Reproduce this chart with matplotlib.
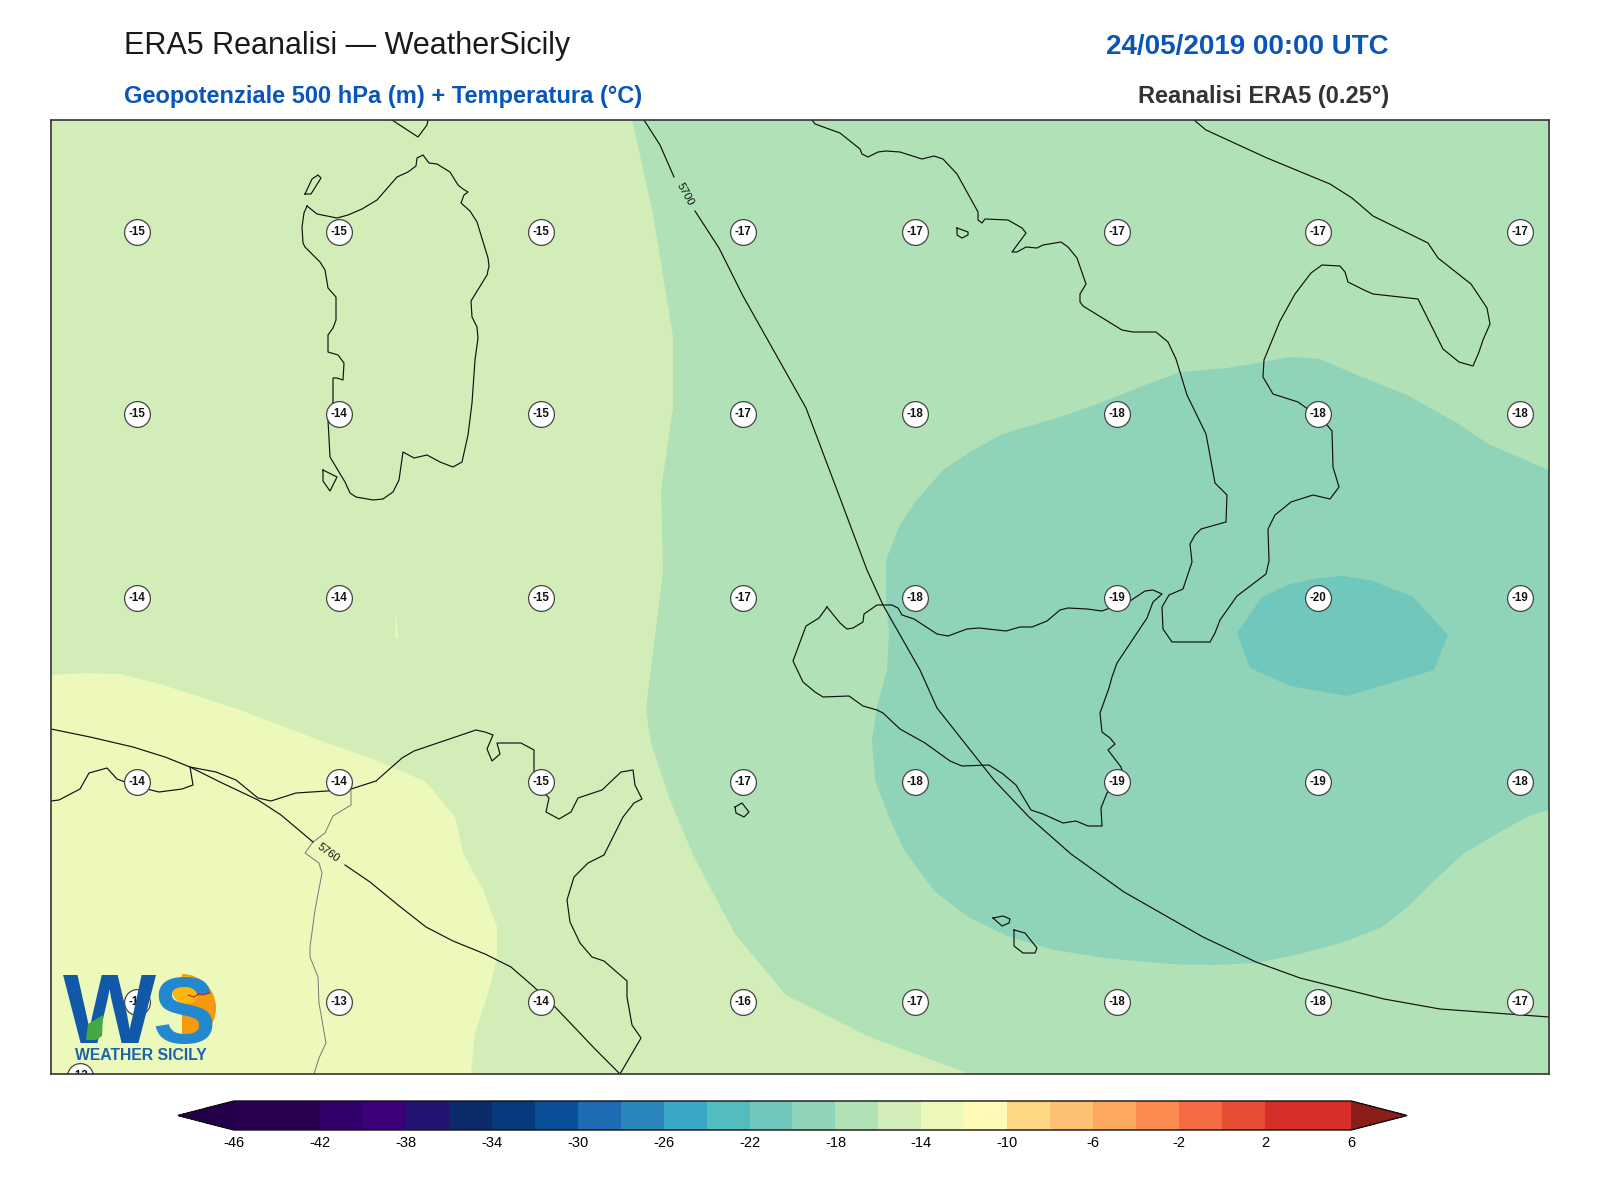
import matplotlib
matplotlib.use("Agg")
import matplotlib.pyplot as plt
from matplotlib.colors import ListedColormap, BoundaryNorm
from matplotlib.cm import ScalarMappable
from matplotlib.patches import Circle, Wedge, Polygon

plt.rcParams['font.family'] = ['Liberation Sans', 'DejaVu Sans']
plt.rcParams['axes.unicode_minus'] = False

# map units follow the reference raster, y grows southward
livelli = list(range(-46, 8, 2))
colori = ['#28004f', '#28004f', '#32006a', '#3e0078', '#231473', '#0c2b6b', '#073a7d',
          '#094f98', '#1d6cb3', '#2a86bb', '#38a7c4', '#52bcbf', '#70c7bc', '#8fd3b9',
          '#b1e1b6', '#d3edb8', '#edf8bb', '#fffab5', '#fed785', '#fdc174', '#fda75f',
          '#fb8b4e', '#f56c44', '#e64e33', '#d62f27', '#d62f27']
colore_sotto = '#25004a'
colore_sopra = '#8b1e18'

# temperature bands (boundary of each level region)
banda_14 = [(51, 120), (1549, 120), (1549, 1074), (51, 1074)]
banda_12 = [(51, 675), (85, 673), (120, 674), (160, 684), (200, 697), (240, 710), (327, 743),
            (376, 760), (426, 782), (455, 817), (463, 853), (483, 890), (497, 927), (497, 958),
            (487, 997), (475, 1033), (471, 1074), (51, 1074)]
banda_12_striscia = [(396, 612), (398, 637), (395, 637)]
banda_16 = [(632, 120), (653, 214), (673, 337), (673, 408), (661, 490), (663, 571), (653, 653),
            (646, 710), (651, 743), (670, 800), (694, 857), (735, 934), (786, 995), (867, 1036),
            (970, 1074), (1549, 1074), (1549, 120)]
banda_18 = [(1549, 470), (1490, 445), (1457, 423), (1407, 395), (1357, 375), (1320, 359),
            (1290, 357), (1257, 363), (1227, 368), (1180, 372), (1140, 387), (1103, 402),
            (1060, 417), (1003, 434), (973, 450), (943, 470), (915, 502), (900, 525), (886, 560),
            (886, 600), (889, 633), (887, 670), (877, 707), (872, 740), (875, 780), (889, 817),
            (904, 850), (935, 892), (970, 918), (1010, 937), (1054, 950), (1106, 958), (1168, 964),
            (1212, 965), (1256, 963), (1300, 954), (1344, 942), (1382, 927), (1410, 905),
            (1437, 878), (1463, 854), (1498, 833), (1529, 816), (1549, 810)]
banda_20 = [(1237, 633), (1262, 597), (1290, 584), (1320, 578), (1343, 576), (1373, 581),
            (1413, 597), (1448, 635), (1434, 670), (1347, 696), (1290, 686), (1250, 668)]

# coastlines
sardegna = [(307, 206), (317, 214), (337, 218), (348, 215), (362, 209), (377, 200), (397, 177),
            (408, 172), (416, 166), (417, 158), (423, 155), (429, 163), (437, 164), (450, 172),
            (458, 185), (463, 189), (468, 192), (464, 195), (461, 203), (470, 211), (477, 222),
            (488, 258), (489, 266), (487, 275), (471, 301), (472, 317), (477, 327), (478, 338),
            (475, 360), (472, 403), (468, 435), (462, 462), (453, 467), (440, 462), (427, 455),
            (414, 458), (403, 452), (399, 480), (393, 492), (383, 499), (373, 500), (356, 497),
            (350, 493), (345, 482), (330, 457), (328, 420), (333, 402), (333, 378), (337, 378),
            (343, 380), (344, 363), (338, 355), (328, 352), (328, 335), (333, 328), (336, 320),
            (336, 297), (328, 288), (325, 270), (320, 262), (305, 247), (303, 243), (302, 227),
            (304, 213), (307, 206)]
asinara = [(305, 194), (312, 179), (318, 175), (321, 178), (311, 194), (305, 194)]
antioco = [(323, 470), (337, 477), (330, 491), (323, 481), (323, 470)]
corsica = [(392, 120), (418, 137), (427, 125), (428, 120)]
sicilia = [(827, 607), (840, 623), (847, 629), (853, 628), (863, 622), (864, 614), (877, 605),
           (892, 605), (898, 608), (902, 615), (914, 619), (937, 634), (948, 636), (967, 629),
           (979, 628), (1006, 631), (1020, 627), (1032, 627), (1047, 621), (1060, 610),
           (1068, 608), (1087, 609), (1102, 611), (1110, 608), (1130, 601), (1145, 591),
           (1153, 590), (1162, 594), (1153, 602), (1147, 618), (1117, 663), (1112, 677),
           (1109, 688), (1100, 713), (1102, 732), (1110, 738), (1115, 744), (1108, 750),
           (1121, 767), (1122, 770), (1117, 783), (1107, 793), (1101, 808), (1102, 826),
           (1088, 826), (1076, 821), (1063, 823), (1043, 814), (1031, 810), (1016, 785),
           (1003, 774), (989, 765), (962, 766), (950, 761), (925, 743), (900, 729), (883, 713),
           (877, 710), (863, 706), (849, 696), (823, 697), (815, 692), (803, 682), (793, 661),
           (806, 626), (819, 618), (827, 607)]
penisola = [(812, 120), (815, 124), (840, 133), (860, 149), (862, 154), (868, 157), (878, 152),
            (886, 151), (900, 152), (922, 159), (934, 156), (943, 159), (957, 174), (978, 212),
            (978, 220), (982, 223), (985, 219), (1008, 220), (1022, 228), (1026, 233), (1012, 252),
            (1017, 252), (1026, 247), (1037, 248), (1043, 245), (1061, 242), (1068, 247),
            (1077, 258), (1086, 284), (1080, 294), (1080, 302), (1083, 306), (1122, 330),
            (1133, 332), (1156, 332), (1168, 342), (1176, 359), (1187, 395), (1206, 434),
            (1211, 461), (1215, 483), (1227, 495), (1226, 522), (1201, 529), (1195, 535),
            (1190, 544), (1192, 562), (1183, 589), (1169, 595), (1162, 607), (1163, 629),
            (1172, 642), (1210, 642), (1215, 633), (1220, 620), (1237, 596), (1266, 574),
            (1269, 561), (1268, 529), (1275, 515), (1291, 502), (1313, 495), (1330, 499),
            (1339, 487), (1333, 467), (1332, 431), (1323, 420), (1298, 402), (1273, 394),
            (1263, 377), (1264, 360), (1280, 321), (1295, 294), (1311, 273), (1322, 265),
            (1340, 266), (1345, 272), (1348, 282), (1364, 290), (1373, 294), (1418, 299),
            (1443, 349), (1459, 362), (1473, 366), (1479, 352), (1483, 340), (1490, 324),
            (1487, 308), (1471, 284), (1438, 258), (1428, 243), (1373, 216), (1352, 198),
            (1330, 184), (1267, 158), (1206, 130), (1194, 120)]
capri = [(957, 228), (968, 232), (968, 235), (962, 238), (957, 235), (957, 228)]
pantelleria = [(735, 807), (742, 803), (749, 812), (744, 817), (736, 813), (735, 807)]
malta = [(1014, 930), (1025, 933), (1037, 948), (1035, 953), (1023, 953), (1014, 946), (1014, 930)]
gozo = [(993, 918), (1003, 916), (1010, 919), (1009, 923), (1002, 926), (993, 918)]
tunisia = [(51, 801), (59, 800), (80, 789), (89, 773), (107, 768), (117, 779), (125, 782),
           (147, 789), (159, 792), (182, 789), (193, 785), (190, 767), (216, 772), (236, 780),
           (258, 798), (271, 801), (296, 793), (327, 791), (351, 789), (376, 781), (402, 758),
           (414, 751), (476, 730), (485, 732), (493, 735), (487, 749), (492, 761), (500, 754),
           (497, 743), (521, 743), (534, 750), (534, 782), (549, 798), (546, 812), (559, 819),
           (571, 812), (578, 798), (602, 790), (621, 772), (633, 770), (635, 785), (642, 799),
           (634, 803), (623, 817), (604, 855), (588, 863), (574, 877), (567, 900), (570, 922),
           (580, 943), (592, 957), (604, 961), (627, 981), (627, 997), (632, 1025), (641, 1038),
           (620, 1074)]
coste = [sardegna, asinara, antioco, corsica, sicilia, penisola, capri, pantelleria, malta, gozo, tunisia]
confine = [(351, 789), (351, 805), (333, 816), (325, 833), (313, 842), (305, 853), (319, 863),
           (322, 873), (315, 910), (310, 947), (310, 957), (318, 977), (319, 1003), (326, 1043),
           (319, 1058), (314, 1074)]

# 500 hPa geopotential, split at the labels
iso_5760 = [[(51, 729), (90, 737), (133, 747), (165, 757), (190, 767), (220, 782), (258, 800),
             (281, 815), (313, 842)],
            [(345, 865), (370, 882), (398, 905), (426, 927), (453, 941), (485, 954), (511, 967),
             (534, 987), (556, 1008), (596, 1050), (620, 1074)]]
iso_5700 = [[(644, 120), (660, 145), (674, 177)],
            [(695, 211), (719, 248), (743, 296), (806, 408), (837, 490), (867, 570), (883, 605),
             (920, 670), (937, 708), (994, 780), (1029, 817), (1071, 854), (1124, 892),
             (1203, 937), (1256, 962), (1300, 978), (1384, 999), (1440, 1009), (1549, 1017)]]
etichette_iso = [('5760', 328, 853, -36), ('5700', 685, 194, -61)]

# grid point temperatures
temp_x = [137, 339, 541, 743, 915, 1117, 1318, 1520]
temp_y = [232, 414, 598, 782, 1002]
temp_val = [[-15, -15, -15, -17, -17, -17, -17, -17],
            [-15, -14, -15, -17, -18, -18, -18, -18],
            [-14, -14, -15, -17, -18, -19, -20, -19],
            [-14, -14, -15, -17, -18, -19, -19, -18],
            [-13, -13, -14, -16, -17, -18, -18, -17]]
extra_x, extra_y, extra_val = 80, 1076, -12

fig = plt.figure(figsize=(16, 12), dpi=100)
ax = fig.add_axes([51 / 1600, 1 - 1074 / 1200, 1498 / 1600, 954 / 1200])
ax.set_xlim(51, 1549)
ax.set_ylim(1074, 120)
ax.set_xticks([])
ax.set_yticks([])
for s in ax.spines.values():
    s.set_linewidth(1.2)
    s.set_edgecolor('#333333')
    s.set_zorder(10)


def col(liv):
    return colori[livelli.index(liv)]


for poli, liv in [(banda_14, -16), (banda_12, -14), (banda_12_striscia, -14),
                  (banda_16, -18), (banda_18, -20), (banda_20, -22)]:
    ax.add_patch(Polygon(poli, closed=True, facecolor=col(liv), edgecolor='none', zorder=1))

for c in coste:
    ax.plot([p[0] for p in c], [p[1] for p in c], color='#111111', lw=0.85, zorder=2)
ax.plot([p[0] for p in confine], [p[1] for p in confine], color='#777777', lw=0.7, zorder=2)

for iso in iso_5760 + iso_5700:
    ax.plot([p[0] for p in iso], [p[1] for p in iso], color='#111111', lw=0.85, zorder=3)
for testo, x, y, rot in etichette_iso:
    ax.text(x, y, testo, fontsize=8, rotation=rot, rotation_mode='anchor',
            ha='center', va='center', color='#111111', zorder=3)

# temperature bubbles
xs, ys, vals = [extra_x], [extra_y], [extra_val]
for r, y in enumerate(temp_y):
    for k, x in enumerate(temp_x):
        xs.append(x)
        ys.append(y)
        vals.append(temp_val[r][k])
ax.scatter(xs, ys, s=345, facecolor='white', edgecolor='#444444', linewidth=0.9, zorder=4)
for x, y, v in zip(xs, ys, vals):
    ax.text(x, y, str(v), fontsize=8.3, fontweight='bold', ha='center', va='center',
            color='#111111', clip_on=True, zorder=5)

# logo
ax.add_patch(Wedge((182, 1008), 34, -90, 90, facecolor='#f59a0c', edgecolor='none', zorder=6))
ax.add_patch(Circle((186, 990), 14, facecolor='#fdb60c', edgecolor='none', zorder=6))
ax.text(63, 1043, 'W', fontsize=71, fontweight='bold', color='#1258a8', zorder=7, va='baseline')
ax.text(152, 1043, 'S', fontsize=68, fontweight='bold', color='#2288cf', zorder=7, va='baseline')
ax.add_patch(Polygon([(86, 1040), (88, 1024), (103, 1015), (102, 1036), (96, 1040)],
                     facecolor='#45a845', edgecolor='none', zorder=8))
ax.plot([188, 194, 199, 203, 209], [995, 997, 994, 995, 993], color='#c8202a', lw=0.8, zorder=8)
ax.text(75, 1060, 'WEATHER SICILY', fontsize=11.3, fontweight='bold', color='#1c63ad', zorder=7,
        va='baseline')

# titles
fig.text(124 / 1600, 1 - 54 / 1200, 'ERA5 Reanalisi — WeatherSicily', fontsize=22,
         color='#1a1a1a', va='baseline')
fig.text(124 / 1600, 1 - 103 / 1200, 'Geopotenziale 500 hPa (m) + Temperatura (°C)', fontsize=17,
         fontweight='bold', color='#0a55b8', va='baseline')
fig.text(1389 / 1600, 1 - 54 / 1200, '24/05/2019 00:00 UTC', fontsize=20, fontweight='bold',
         color='#0a55b8', ha='right', va='baseline')
fig.text(1389 / 1600, 1 - 103 / 1200, 'Reanalisi ERA5 (0.25°)', fontsize=17, fontweight='bold',
         color='#333333', ha='right', va='baseline')

# colorbar, the axes includes both extension triangles
cax = fig.add_axes([178 / 1600, 1 - 1130 / 1200, 1229 / 1600, 29 / 1200])
cmap = ListedColormap(colori)
cmap.set_under(colore_sotto)
cmap.set_over(colore_sopra)
norm = BoundaryNorm(livelli, cmap.N)
cb = fig.colorbar(ScalarMappable(norm=norm, cmap=cmap), cax=cax, orientation='horizontal',
                  extend='both', extendfrac=0.05, spacing='proportional',
                  ticks=list(range(-46, 7, 4)))
cb.minorticks_off()
cb.ax.tick_params(which='both', length=0, labelsize=10.5, pad=4)
cb.outline.set_linewidth(1.0)
cb.outline.set_edgecolor('#111111')

fig.savefig('out.png', dpi=100)
